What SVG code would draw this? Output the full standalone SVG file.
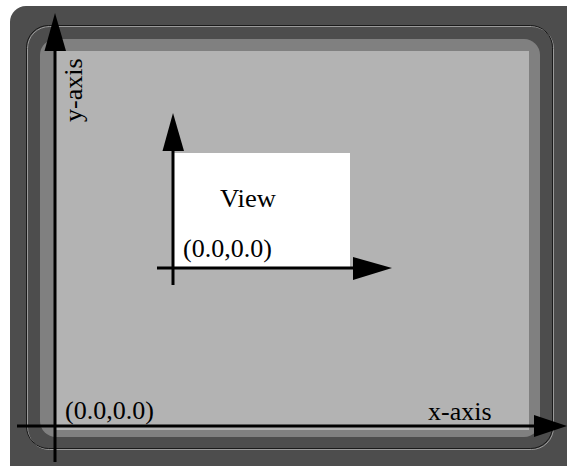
<svg xmlns="http://www.w3.org/2000/svg" width="567" height="466" viewBox="0 0 567 466">
  <style>
    .label { font-family: "Liberation Serif", "Times New Roman", serif; font-size: 26px; fill: #000; }
    .axis { stroke: #000; stroke-width: 3; fill: none; }
    .head { fill: #000; stroke: none; }
  </style>
  <rect width="567" height="466" fill="#ffffff"/>

  <!-- monitor housing -->
  <g id="monitor">
    <rect x="10" y="6" width="580" height="490" rx="16" fill="#4d4d4d"/>
    <rect x="27.5" y="26.5" width="526" height="423" rx="22" fill="none" stroke="#9a9a9a" stroke-width="1"/>
    <rect x="26.5" y="25.5" width="526" height="423" rx="22" fill="none" stroke="#1a1a1a" stroke-width="1"/>
    <rect x="40" y="39" width="500" height="398" rx="16" fill="#808080"/>
    <rect x="54" y="51" width="475" height="379" fill="#b3b3b3"/>
  </g>

  <!-- view area -->
  <g id="view">
    <rect x="173" y="153" width="177" height="115" fill="#ffffff"/>
    <text class="label" x="220" y="207" textLength="56" lengthAdjust="spacingAndGlyphs">View</text>
    <text class="label" x="183" y="257">(0.0,0.0)</text>
  </g>

  <!-- screen labels -->
  <g id="screen-labels">
    <text class="label" transform="translate(82,122) rotate(-90)">y-axis</text>
    <text class="label" x="428" y="420">x-axis</text>
    <text class="label" x="65" y="419">(0.0,0.0)</text>
  </g>

  <!-- coordinate axes -->
  <g id="connectors">
    <line class="axis" x1="55" y1="48" x2="55" y2="462"/>
    <polygon class="head" points="55,13 44.5,51 66,51"/>
    <line class="axis" x1="17" y1="426" x2="536" y2="426"/>
    <polygon class="head" points="567,426 534,415 534,437"/>

    <line class="axis" x1="173" y1="148" x2="173" y2="285"/>
    <polygon class="head" points="173,113 162.5,151 184,151"/>
    <line class="axis" x1="157" y1="268" x2="355" y2="268"/>
    <polygon class="head" points="392,268 353,257 353,280"/>
  </g>
</svg>
